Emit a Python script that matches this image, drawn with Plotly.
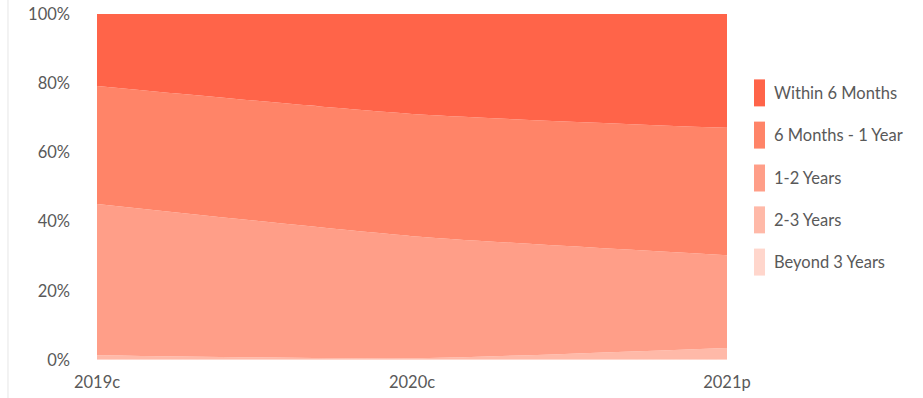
import plotly.graph_objects as go

categories = ["2019c", "2020c", "2021p"]
series_names = ["Beyond 3 Years", "2-3 Years", "1-2 Years", "6 Months - 1 Year", "Within 6 Months"]
beyond_3 = [0.3, 0.2, 0.3]
y2_3 = [1.1, 0.3, 3.2]
y1_2 = [43.7, 35.3, 26.8]
m6_1y = [34.1, 35.3, 36.8]
within_6m = [20.8, 28.9, 32.9]
colors = ["#FFD6CC", "#FFB9A8", "#FF9E88", "#FF8468", "#FF6449"]
tick_vals = [0, 20, 40, 60, 80, 100]
tick_text = ["0%", "20%", "40%", "60%", "80%", "100%"]

series = [beyond_3, y2_3, y1_2, m6_1y, within_6m]
FONT = "Lato, 'Open Sans', sans-serif"
TXT = "#595959"
FS = 16.5

fig = go.Figure()
for name, vals, col in zip(series_names, series, colors):
    fig.add_trace(go.Scatter(
        x=categories, y=vals, name=name, mode="lines",
        stackgroup="one", groupnorm="percent",
        line=dict(width=0, color=col, shape="spline", smoothing=0.6),
        fillcolor=col, showlegend=False, hoverinfo="skip",
    ))

# custom legend (top item first)
legend_y = [0.772, 0.650, 0.526, 0.405, 0.283]
for i, (name, col) in enumerate(zip(reversed(series_names), reversed(colors))):
    yc = legend_y[i]
    fig.add_shape(type="rect", xref="paper", yref="paper",
                  x0=1.0429, x1=1.0603, y0=yc - 0.039, y1=yc + 0.039,
                  fillcolor=col, line=dict(width=0))
    fig.add_annotation(text=name, xref="paper", yref="paper", x=1.072, y=yc,
                       xanchor="left", yanchor="middle", showarrow=False,
                       font=dict(family=FONT, size=FS, color=TXT))

# light left border line
fig.add_shape(type="line", xref="paper", yref="paper",
              x0=-0.1413, x1=-0.1413, y0=-0.2, y1=1.1,
              line=dict(color="#E6E6E6", width=1))

fig.update_layout(
    width=923, height=398,
    margin=dict(l=97, r=196, t=14, b=38, autoexpand=False),
    paper_bgcolor="white", plot_bgcolor="white",
    font=dict(family=FONT, size=FS, color=TXT),
    showlegend=False,
)
fig.update_xaxes(range=[0, 2], showgrid=False, zeroline=False, showline=False,
                 ticks="", tickfont=dict(size=FS, color=TXT), ticklabelstandoff=10,
                 automargin=False)
fig.update_yaxes(range=[0, 100], tickvals=tick_vals, ticktext=tick_text,
                 showgrid=False, zeroline=False, showline=False, ticks="",
                 tickfont=dict(size=FS, color=TXT), ticklabelstandoff=26,
                 automargin=False)

fig.write_html("out.html")
